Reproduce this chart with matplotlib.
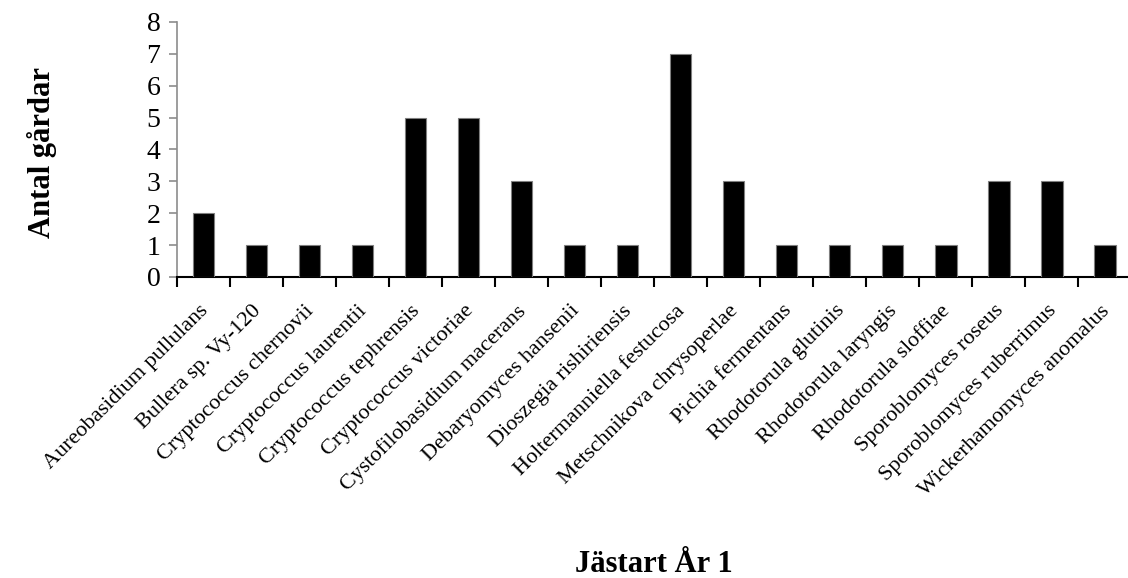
import matplotlib
matplotlib.use("Agg")
import matplotlib.pyplot as plt
import matplotlib.transforms as mtransforms
import numpy as np

species = [
    "Aureobasidium pullulans",
    "Bullera sp. Vy-120",
    "Cryptococcus chernovii",
    "Cryptococcus laurentii",
    "Cryptococcus tephrensis",
    "Cryptococcus victoriae",
    "Cystofilobasidium macerans",
    "Debaryomyces hansenii",
    "Dioszegia rishiriensis",
    "Holtermanniella festucosa",
    "Metschnikova chrysoperlae",
    "Pichia fermentans",
    "Rhodotorula glutinis",
    "Rhodotorula laryngis",
    "Rhodotorula sloffiae",
    "Sporoblomyces roseus",
    "Sporoblomyces ruberrimus",
    "Wickerhamomyces anomalus",
]
farms = [2, 1, 1, 1, 5, 5, 3, 1, 1, 7, 3, 1, 1, 1, 1, 3, 3, 1]
yticks = [0, 1, 2, 3, 4, 5, 6, 7, 8]

plt.rcParams["font.family"] = ["Liberation Serif", "DejaVu Serif"]

fig = plt.figure(figsize=(11.28, 5.78), dpi=100)
ax = fig.add_axes([0.1569, 0.5208, 0.8462, 0.4412])

x = np.arange(len(species))
ax.bar(x, farms, width=0.4, color="black", edgecolor="#7f7f7f", linewidth=0.8, zorder=3)

ax.set_xlim(-0.5, len(species) - 0.5)
ax.set_ylim(0, 8)

ax.tick_params(axis="x", which="major", length=0, pad=14)
ax.tick_params(axis="x", which="minor", length=7, width=1.5, color="black", direction="out")
ax.tick_params(axis="y", length=6, width=1.2, color="#8c8c8c", direction="out", pad=6)

ax.set_yticks(yticks)
ax.set_yticklabels([str(v) for v in yticks], fontsize=20)

ax.set_xticks(x)
ax.set_xticklabels(species, fontsize=16, rotation=45, ha="right", va="top",
                   rotation_mode="anchor")
ax.set_xticks(np.arange(len(species) + 1) - 0.5, minor=True)

# nudge the slanted category labels slightly left and down
shift = mtransforms.ScaledTranslation(-5 / 100, -5 / 100, fig.dpi_scale_trans)
for lbl in ax.get_xticklabels():
    lbl.set_transform(lbl.get_transform() + shift)

for s in ("top", "right"):
    ax.spines[s].set_visible(False)
ax.spines["left"].set_color("#8c8c8c")
ax.spines["left"].set_linewidth(1.2)
ax.spines["bottom"].set_color("black")
ax.spines["bottom"].set_linewidth(1.5)

fig.text(42.5 / 1128, 1 - 152 / 578, "Antal gårdar", fontsize=22, fontweight="bold",
         rotation=90, ha="center", va="center")
fig.text(654 / 1128, 1 - 572 / 578, "Jästart År 1", fontsize=22, fontweight="bold",
         ha="center", va="baseline")

fig.savefig("out.png", dpi=100)
